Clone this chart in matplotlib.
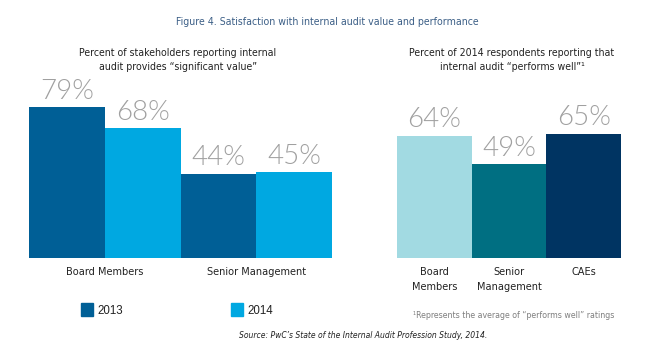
import matplotlib
matplotlib.use("Agg")
import matplotlib.pyplot as plt

W, H = 648, 361
DPI = 100

# ---- data ----
left_groups = ["Board Members", "Senior Management"]
left_2013 = [79, 44]
left_2014 = [68, 45]
series_labels = ["2013", "2014"]
right_cats = ["Board\nMembers", "Senior\nManagement", "CAEs"]
right_vals = [64, 49, 65]

title = "Figure 4. Satisfaction with internal audit value and performance"
left_sub = "Percent of stakeholders reporting internal\naudit provides \u201csignificant value\u201d"
right_sub = "Percent of 2014 respondents reporting that\ninternal audit \u201cperforms well\u201d\u00b9"
footnote = "\u00b9Represents the average of \u201cperforms well\u201d ratings"
source = "Source: PwC\u2019s State of the Internal Audit Profession Study, 2014."

C2013 = "#005F96"
C2014 = "#00A8E1"
RCOLS = ["#A2DAE2", "#006F82", "#003462"]
LABEL_GREY = "#A0A0A0"
NARROW = dict(family="DejaVu Sans", fontstretch="condensed")
LIGHT = ["Lato", "DejaVu Sans"]

fig = plt.figure(figsize=(W / DPI, H / DPI), dpi=DPI)

def px_axes(x0, x1, ytop, ybot):
    return fig.add_axes([x0 / W, 1 - ybot / H, (x1 - x0) / W, (ybot - ytop) / H])

base = 258
scale = 1.91  # px per percent
top = base - 100 * scale

def style(ax):
    ax.set_ylim(0, 100)
    ax.axis("off")

def value_labels(ax, xs, vals):
    for x, v in zip(xs, vals):
        ax.annotate(f"{v}%", (x, v), xytext=(0, 2.5), textcoords="offset points",
                    ha="center", va="bottom", fontsize=20, color=LABEL_GREY,
                    family=LIGHT, fontweight=300)

# left chart
axL = px_axes(29, 332, top, base)
style(axL)
axL.set_xlim(0, 4)
x13 = [0, 2]
x14 = [1, 3]
axL.bar(x13, left_2013, width=1, align="edge", color=C2013)
axL.bar(x14, left_2014, width=1, align="edge", color=C2014)
value_labels(axL, [x + 0.5 for x in x13], left_2013)
value_labels(axL, [x + 0.5 for x in x14], left_2014)
for i, g in enumerate(left_groups):
    axL.text(2 * i + 1, -4.5, g, ha="center", va="top", fontsize=7.8,
             color="#222222", **NARROW)

# right chart
axR = px_axes(397, 621, top, base)
style(axR)
axR.set_xlim(0, 3)
xr = [0, 1, 2]
axR.bar(xr, right_vals, width=1, align="edge", color=RCOLS)
value_labels(axR, [x + 0.5 for x in xr], right_vals)
for x, c in zip(xr, right_cats):
    axR.text(x + 0.5, -4.5, c, ha="center", va="top", fontsize=7.8,
             color="#222222", linespacing=1.65, **NARROW)

# texts
fig.text(327 / W, 1 - 22 / H, title, ha="center", va="center", fontsize=7.6,
         color="#3B5E86", **NARROW)
fig.text(178 / W, 1 - 60 / H, left_sub, ha="center", va="center", fontsize=7.6,
         color="#222222", linespacing=1.5, **NARROW)
fig.text(512 / W, 1 - 60 / H, right_sub, ha="center", va="center", fontsize=7.6,
         color="#222222", linespacing=1.5, **NARROW)

# legend
for (x, lab, col) in [(81, series_labels[0], C2013), (231, series_labels[1], C2014)]:
    fig.patches.append(plt.Rectangle((x / W, 1 - 316 / H), 12 / W, 13 / H,
                                     transform=fig.transFigure, color=col))
    fig.text((x + 16) / W, 1 - 311 / H, lab, ha="left", va="center",
             fontsize=8.3, family=["Liberation Sans", "DejaVu Sans"], color="#222222")

fig.text(413 / W, 1 - 315 / H, footnote, ha="left", va="center", fontsize=6.3,
         color="#7F7F7F", **NARROW)
fig.text(363 / W, 1 - 336 / H, source, ha="center", va="center", fontsize=6.1,
         style="italic", color="#222222", **NARROW)

fig.savefig("out.png", dpi=DPI)
